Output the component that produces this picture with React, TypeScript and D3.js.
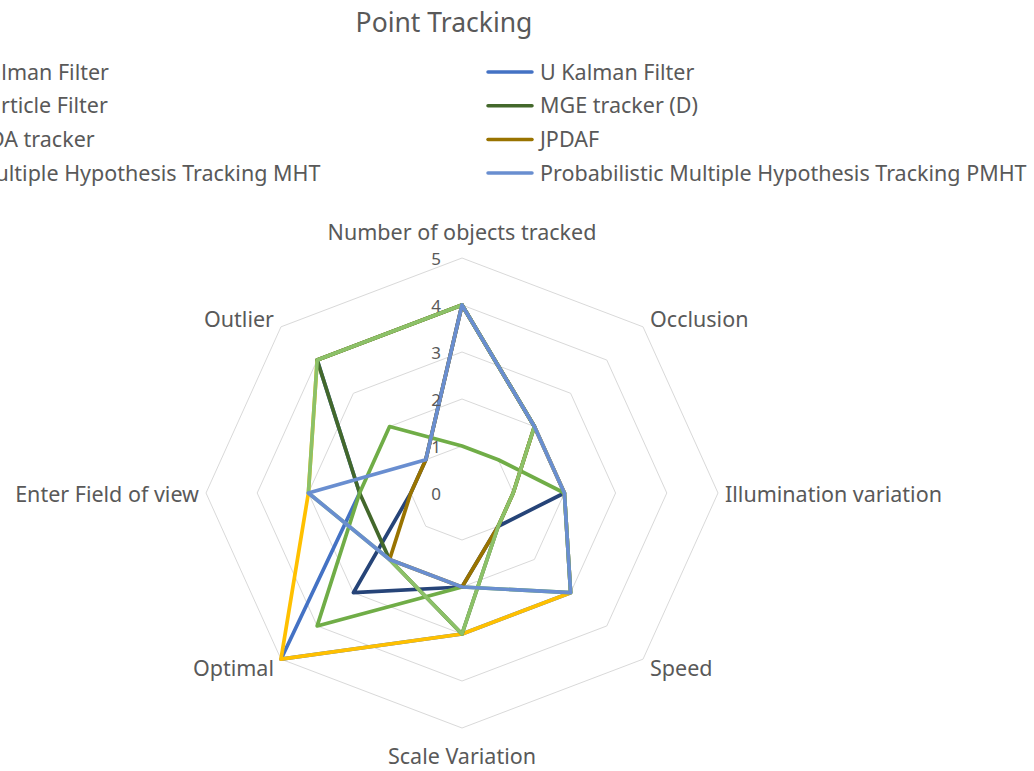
import React from "react";
import * as d3 from "d3";

// axes, clockwise from the top
const axes = [
  "Number of objects tracked",
  "Occlusion",
  "Illumination variation",
  "Speed",
  "Scale Variation",
  "Optimal",
  "Enter Field of view",
  "Outlier",
];

const seriesNames = [
  "Kalman Filter",
  "U Kalman Filter",
  "Particle Filter",
  "MGE tracker (D)",
  "PDA tracker",
  "JPDAF",
  "Multiple Hypothesis Tracking MHT",
  "Probabilistic Multiple Hypothesis Tracking PMHT",
];

const kalman = [4, 2, 2, 1, 2, 3, 1, 1];
const uKalman = [4, 2, 2, 3, 3, 5, 2, 4];
const particle = [4, 2, 2, 3, 3, 5, 3, 4];
const mge = [4, 2, 1, 1, 3, 2, 2, 4];
const pda = [1, 1, 2, 3, 2, 4, 2, 2];
const jpdaf = [4, 2, 1, 1, 2, 2, 1, 1];
const mht = [4, 2, 1, 1, 3, 2, 3, 4];
const pmht = [4, 2, 2, 3, 2, 2, 3, 1];

const seriesValues = [kalman, uKalman, particle, mge, pda, jpdaf, mht, pmht];

const colors = [
  "#264478",
  "#4472C4",
  "#FFC000",
  "#43682B",
  "#70AD47",
  "#997300",
  "#8CC168",
  "#698ED0",
];

const ticks = [0, 1, 2, 3, 4, 5];

const W = 1034;
const H = 771;
const cx = 462;
const cy = 493;
const RX = 256;
const RY = 235;
const FONT = "'Noto Sans', sans-serif";
const TXT = "#595959";

export default function App() {
  const r = d3.scaleLinear().domain([0, 5]).range([0, 1]);
  const ang = (i: number) => (i * 2 * Math.PI) / axes.length;
  const pt = (i: number, v: number): [number, number] => [
    cx + r(v) * RX * Math.sin(ang(i)),
    cy - r(v) * RY * Math.cos(ang(i)),
  ];
  const poly = d3.line<[number, number]>().curve(d3.curveLinearClosed);

  const legendRows = 4;
  const colX = [-24, 540];
  const rowY = (k: number) => 71 + k * 33.7;

  return (
    <svg
      width={W}
      height={H}
      style={{ position: "absolute", left: 0, top: 0, background: "#fff" }}
      fontFamily={FONT}
    >
      <text x={444} y={22} textAnchor="middle" dominantBaseline="central" fontSize={26.5} fill={TXT}>
        Point Tracking
      </text>

      {seriesNames.map((name, k) => {
        const col = k % 2;
        const row = Math.floor(k / 2);
        const x = colX[col];
        const y = rowY(row % legendRows);
        return (
          <g key={name}>
            <line x1={x - 52} x2={x - 8} y1={y + 1} y2={y + 1} stroke={colors[k]} strokeWidth={3.5} strokeLinecap="round" />
            <text x={x} y={y} dominantBaseline="central" fontSize={21.5} fill={TXT}>
              {name}
            </text>
          </g>
        );
      })}

      {ticks.slice(1).map((t) => (
        <path
          key={t}
          d={poly(axes.map((_, i) => pt(i, t))) || ""}
          fill="none"
          stroke="#D9D9D9"
          strokeWidth={1}
        />
      ))}

      {seriesValues.map((vals, k) => (
        <path
          key={k}
          d={poly(vals.map((v, i) => pt(i, v))) || ""}
          fill="none"
          stroke={colors[k]}
          strokeWidth={3.7}
          strokeLinejoin="round"
        />
      ))}

      {ticks.map((t) => (
        <text
          key={t}
          x={cx - 21}
          y={cy - r(t) * RY}
          textAnchor="end"
          dominantBaseline="central"
          fontSize={17}
          fill={TXT}
        >
          {t}
        </text>
      ))}

      {axes.map((a, i) => {
        const s = Math.sin(ang(i));
        const c = Math.cos(ang(i));
        const side = Math.abs(s) < 0.1 ? 0 : Math.sign(s);
        const x = cx + s * RX + side * 7;
        const y = cy - c * RY - (side === 0 ? 27 : 11.3) * c;
        return (
          <text
            key={a}
            x={x}
            y={y}
            textAnchor={side === 0 ? "middle" : side > 0 ? "start" : "end"}
            dominantBaseline="central"
            fontSize={21.5}
            fill={TXT}
          >
            {a}
          </text>
        );
      })}
    </svg>
  );
}
